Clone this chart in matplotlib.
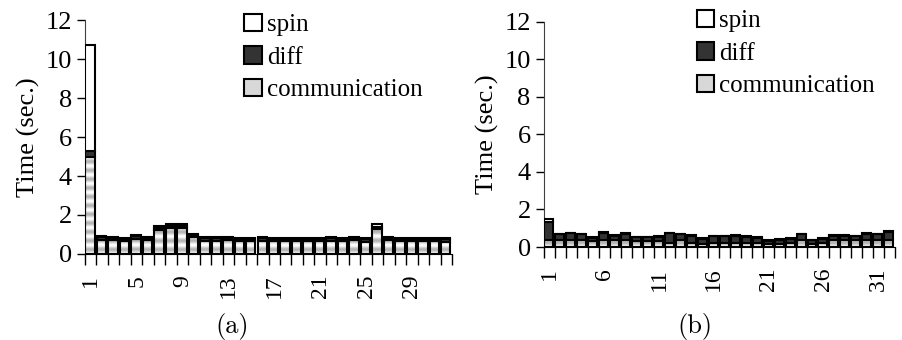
import numpy as np
import matplotlib
matplotlib.use("Agg")
import matplotlib.pyplot as plt
from matplotlib.patches import Patch

plt.rcParams['font.family'] = ['Liberation Serif', 'DejaVu Serif']

# (a) 32 processes, time split into communication / diff / spin
comm_a = [5.00, 0.73, 0.71, 0.65, 0.78, 0.71, 1.22, 1.32, 1.32, 0.85, 0.68, 0.68,
          0.71, 0.66, 0.66, 0.68, 0.66, 0.66, 0.66, 0.66, 0.66, 0.68, 0.66, 0.71,
          0.63, 1.30, 0.71, 0.66, 0.66, 0.66, 0.66, 0.63]
diff_a = [0.30, 0.12, 0.12, 0.12, 0.12, 0.12, 0.10, 0.10, 0.10, 0.12, 0.12, 0.12,
          0.12, 0.12, 0.12, 0.12, 0.12, 0.12, 0.12, 0.12, 0.12, 0.12, 0.12, 0.12,
          0.12, 0.10, 0.12, 0.12, 0.12, 0.12, 0.12, 0.12]
spin_a = [5.40, 0.05, 0.05, 0.05, 0.05, 0.05, 0.13, 0.14, 0.14, 0.05, 0.05, 0.05,
          0.05, 0.05, 0.05, 0.05, 0.05, 0.05, 0.05, 0.05, 0.05, 0.05, 0.05, 0.05,
          0.05, 0.16, 0.05, 0.05, 0.05, 0.05, 0.05, 0.05]

# (b)
comm_b = [0.40, 0.35, 0.35, 0.35, 0.33, 0.35, 0.35, 0.35, 0.33, 0.33, 0.33, 0.20,
          0.36, 0.20, 0.18, 0.20, 0.20, 0.20, 0.20, 0.20, 0.18, 0.18, 0.20, 0.36,
          0.18, 0.20, 0.36, 0.36, 0.36, 0.36, 0.36, 0.36]
diff_b = [0.92, 0.33, 0.38, 0.33, 0.16, 0.42, 0.26, 0.37, 0.19, 0.19, 0.23, 0.53,
          0.32, 0.39, 0.25, 0.37, 0.37, 0.41, 0.34, 0.30, 0.15, 0.22, 0.23, 0.32,
          0.18, 0.25, 0.25, 0.25, 0.21, 0.36, 0.32, 0.45]
spin_b = [0.17] + [0.03] * 31

labels_a = [1, 5, 9, 13, 17, 21, 25, 29]
labels_b = [1, 6, 11, 16, 21, 26, 31]
yticks = [0, 2, 4, 6, 8, 10, 12]


def stacked(ax, comm, diff, spin, leg_y, period=0.45):
    comm = np.array(comm)
    diff = np.array(diff)
    spin = np.array(spin)
    n = len(comm)
    left = np.arange(1, n + 1) - 0.46
    w = 0.82
    # striped grey gradient for communication part
    for xi, h in zip(left, comm):
        yy = np.linspace(0, h, 300)
        stripe = 0.85 + 0.15 * np.cos(2 * np.pi * yy / period)
        ax.imshow(stripe[:, None], extent=[xi, xi + w, 0, h], origin='lower',
                  cmap='gray', vmin=0, vmax=1, aspect='auto',
                  interpolation='bilinear', zorder=2)
    ax.bar(left, comm, w, align='edge', fill=False, edgecolor='black', lw=1.5, zorder=3)
    ax.bar(left, diff, w, bottom=comm, align='edge', color='#333333',
           edgecolor='black', lw=1.5, zorder=3)
    ax.bar(left, spin, w, bottom=comm + diff, align='edge', color='white',
           edgecolor='black', lw=1.5, zorder=3)

    ax.set_xlim(0.5, n + 0.5)
    ax.set_ylim(0, 12)
    ax.set_yticks(yticks)
    ax.set_ylabel('Time (sec.)', fontsize=19)
    ax.set_xticks(np.arange(0.5, n + 1), minor=True)
    ax.tick_params(axis='x', which='minor', length=8, width=1, direction='out')
    ax.tick_params(axis='x', which='major', length=0, labelsize=17, labelrotation=90, pad=15)
    ax.tick_params(axis='y', length=6, width=1, labelsize=19)
    for s in ['top', 'right']:
        ax.spines[s].set_visible(False)
    ax.spines['left'].set_color('#404040')

    handles = [Patch(facecolor='white', edgecolor='black', lw=1.5, label='spin'),
               Patch(facecolor='#333333', edgecolor='black', lw=1.5, label='diff'),
               Patch(facecolor='#d8d8d8', edgecolor='black', lw=1.5, label='communication')]
    ax.legend(handles=handles, loc='upper left', bbox_to_anchor=(0.40, leg_y),
              frameon=False, fontsize=18, handlelength=0.7, handleheight=0.7,
              handletextpad=0.2, labelspacing=0.4, borderpad=0)


fig = plt.figure(figsize=(9.02, 3.4), dpi=100)
ax1 = fig.add_axes([0.0942, 0.253, 0.407, 0.688])
ax2 = fig.add_axes([0.603, 0.2735, 0.389, 0.662])

stacked(ax1, comm_a, diff_a, spin_a, 1.08)
ax1.set_xticks(labels_a)
ax1.set_xticklabels([str(v) for v in labels_a])

stacked(ax2, comm_b, diff_b, spin_b, 1.11)
ax2.set_xticks(labels_b)
ax2.set_xticklabels([str(v) for v in labels_b])

fig.text(232 / 902, 1 - 326 / 340, '(a)', family='cmr10', fontsize=19, ha='center', va='center')
fig.text(695 / 902, 1 - 326 / 340, '(b)', family='cmr10', fontsize=19, ha='center', va='center')

fig.savefig('out.png', dpi=100)
